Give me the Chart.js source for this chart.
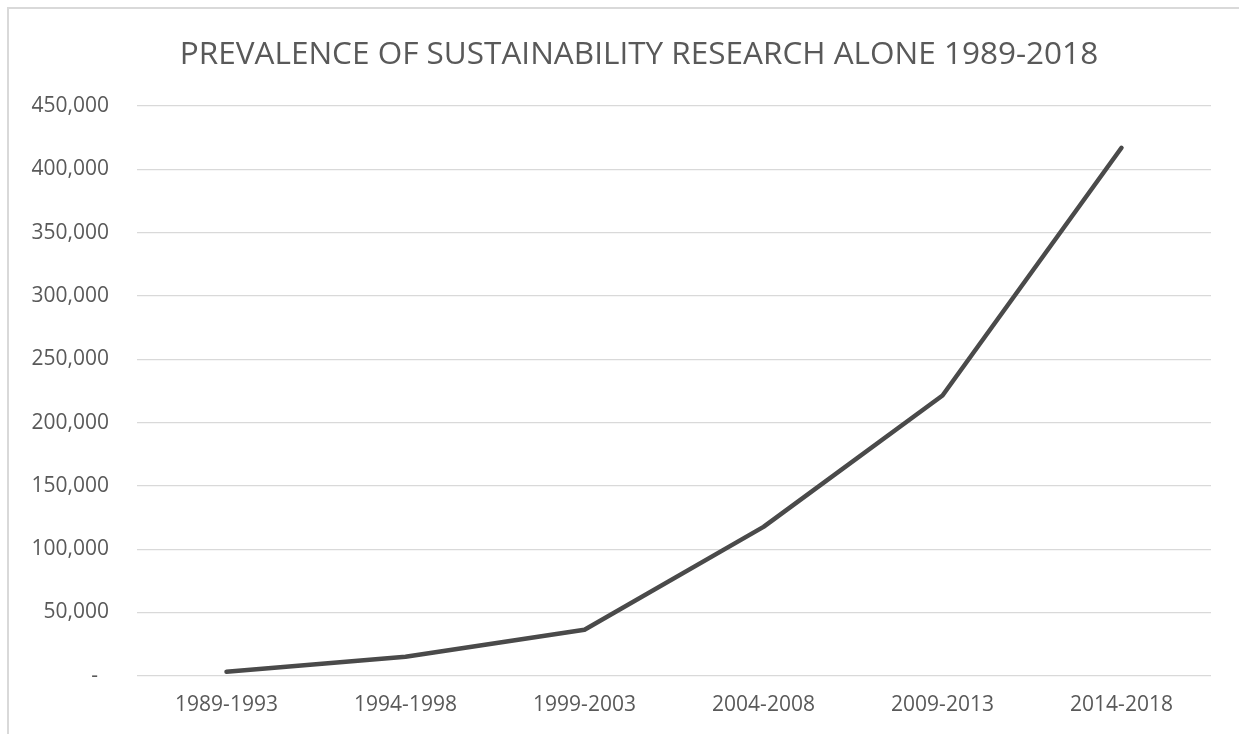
<!DOCTYPE html>
<html>
<head>
<meta charset="utf-8">
<script src="https://cdn.jsdelivr.net/npm/chart.js@4.4.1/dist/chart.umd.min.js"></script>
<style>
  html, body { margin: 0; padding: 0; background: #fff; }
  #wrap { position: relative; width: 1239px; height: 734px; overflow: hidden; }
  #frame { position: absolute; left: 7px; top: 7px; right: -10px; bottom: -10px;
           border-left: 2px solid #d9d9d9; border-top: 2px solid #d9d9d9; pointer-events: none; }
  canvas { position: absolute; left: 0; top: 0; }
</style>
</head>
<body>
<div id="wrap">
  <canvas id="chart" width="1239" height="749"></canvas>
  <div id="frame"></div>
</div>
<script>
// Five-year periods and publication counts
const periods = ['1989-1993', '1994-1998', '1999-2003', '2004-2008', '2009-2013', '2014-2018'];
const publications = [3200, 15000, 36400, 117600, 221400, 417000];
const yTicks = [0, 50000, 100000, 150000, 200000, 250000, 300000, 350000, 400000, 450000];
const chartTitle = 'PREVALENCE OF SUSTAINABILITY RESEARCH ALONE 1989-2018';

const FONT = "'Open Sans', 'Liberation Sans', sans-serif";
const TEXT = '#595959';

// Heading drawn centred above the plot
const headingPlugin = {
  id: 'heading',
  afterDraw(chart) {
    const ctx = chart.ctx;
    ctx.save();
    ctx.fillStyle = TEXT;
    ctx.font = "31.5px " + FONT;
    ctx.textAlign = 'center';
    ctx.textBaseline = 'alphabetic';
    ctx.fillText(chartTitle, 639, 64);
    ctx.restore();
  }
};

new Chart(document.getElementById('chart'), {
  type: 'line',
  data: {
    labels: periods,
    datasets: [{
      data: publications,
      borderColor: '#4a4a4a',
      borderWidth: 4.5,
      borderCapStyle: 'round',
      borderJoinStyle: 'round',
      pointRadius: 0,
      tension: 0,
      fill: false
    }]
  },
  plugins: [headingPlugin],
  options: {
    responsive: false,
    animation: false,
    devicePixelRatio: 1,
    layout: { padding: { left: 0, right: 28, top: 106, bottom: 14 } },
    plugins: {
      legend: { display: false },
      tooltip: { enabled: false },
      title: { display: false }
    },
    scales: {
      x: {
        offset: true,
        grid: { display: false, drawTicks: false },
        border: { display: false },
        ticks: { color: TEXT, font: { family: FONT, size: 21 }, padding: 17, maxRotation: 0 }
      },
      y: {
        min: 0,
        max: 450000,
        afterBuildTicks: (axis) => { axis.ticks = yTicks.map(v => ({ value: v })); },
        afterFit: (axis) => { axis.width = 137; },
        grid: { color: '#d9d9d9', lineWidth: 1.3, drawTicks: false },
        border: { display: false },
        ticks: {
          color: TEXT,
          font: { family: FONT, size: 21 },
          padding: 28,
          callback: (v) => v === 0 ? '-  ' : v.toLocaleString('en-US')
        }
      }
    }
  }
});
</script>
</body>
</html>
